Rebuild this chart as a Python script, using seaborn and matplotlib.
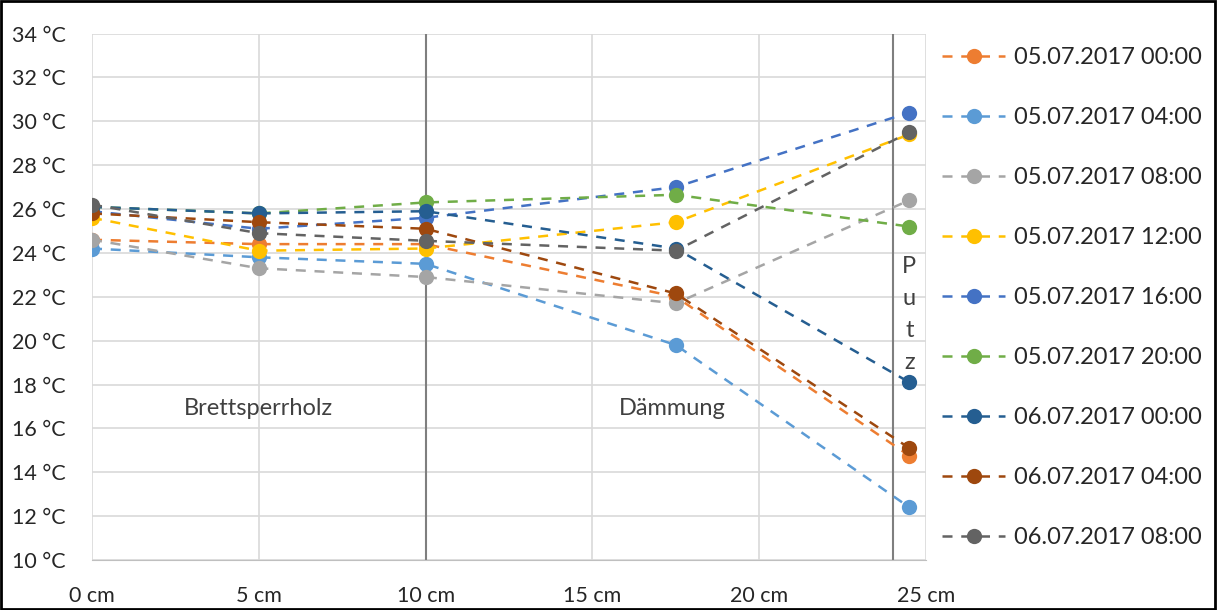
import pandas as pd
import numpy as np
import matplotlib.pyplot as plt
import seaborn as sns
from matplotlib.lines import Line2D
from matplotlib.patches import Rectangle

# -----------------------------
# DATA
# -----------------------------
positions = [0, 5, 10, 17.5, 24.5]

times = [
    "05.07.2017 00:00", "05.07.2017 04:00", "05.07.2017 08:00",
    "05.07.2017 12:00", "05.07.2017 16:00", "05.07.2017 20:00",
    "06.07.2017 00:00", "06.07.2017 04:00", "06.07.2017 08:00",
]

t_0500 = [24.6, 24.4, 24.4, 22.0, 14.75]
t_0504 = [24.2, 23.8, 23.5, 19.8, 12.4]
t_0508 = [24.6, 23.3, 22.9, 21.7, 26.4]
t_0512 = [25.6, 24.1, 24.2, 25.4, 29.4]
t_0516 = [25.9, 25.1, 25.6, 27.0, 30.4]
t_0520 = [26.1, 25.8, 26.3, 26.65, 25.2]
t_0600 = [26.1, 25.8, 25.9, 24.2, 18.1]
t_0604 = [25.8, 25.4, 25.1, 22.15, 15.1]
t_0608 = [26.2, 24.9, 24.55, 24.1, 29.5]

series = [t_0500, t_0504, t_0508, t_0512, t_0516, t_0520, t_0600, t_0604, t_0608]

colors = ["#ED7D31", "#5B9BD5", "#A5A5A5", "#FFC000", "#4472C4",
          "#70AD47", "#255E91", "#9E480E", "#636363"]

y_ticks = list(range(10, 35, 2))
x_ticks = [0, 5, 10, 15, 20, 25]

rows = []
for t, vals in zip(times, series):
    for p, v in zip(positions, vals):
        rows.append({"pos": p, "temp": v, "time": t})
df = pd.DataFrame(rows)

# -----------------------------
# PLOT
# -----------------------------
sns.set_style("white")
plt.rcParams['font.family'] = ['Lato', 'DejaVu Sans']

fig = plt.figure(figsize=(12.17, 6.10), dpi=100)
ax = fig.add_axes([0.0756, 0.082, 0.6853, 0.863])

sns.lineplot(
    data=df, x="pos", y="temp", hue="time", hue_order=times,
    palette=colors, marker="o", markersize=11, markeredgewidth=0,
    linestyle="--", dashes=False, linewidth=1.8, sort=False,
    legend=False, ax=ax, zorder=3
)
for line in ax.get_lines():
    line.set_linestyle((0, (4, 3.5)))

# layer boundaries
ax.axvline(10, color="#7F7F7F", linewidth=1.5, zorder=2)
ax.axvline(24, color="#7F7F7F", linewidth=1.5, zorder=2)

ax.set_xlim(0, 25)
ax.set_ylim(10, 34)
ax.set_xticks(x_ticks)
ax.set_xticklabels([f"{x} cm" for x in x_ticks], fontsize=15.5)
ax.set_yticks(y_ticks)
ax.set_yticklabels([f"{y} °C" for y in y_ticks], fontsize=15.5)
ax.tick_params(axis="x", pad=19, length=0)
ax.tick_params(axis="y", pad=19, length=0)
ax.set_xlabel("")
ax.set_ylabel("")
ax.grid(True, color="#D9D9D9", linewidth=1.2)
ax.set_axisbelow(True)
for s in ["top", "right", "left"]:
    ax.spines[s].set_visible(False)
ax.spines["bottom"].set_color("#BFBFBF")

ax.text(5, 16.9, "Brettsperrholz", fontsize=17, color="#404040",
        ha="center", va="center")
ax.text(17.4, 16.9, "Dämmung", fontsize=17, color="#404040",
        ha="center", va="center")
for i, ch in enumerate("Putz"):
    ax.text(24.5, 23.4 - i * 1.46, ch, fontsize=17, color="#404040",
            ha="center", va="center")

handles = [Line2D([0], [0], color=c, linestyle=(0, (4, 3.5)), linewidth=1.8,
                  marker="o", markersize=11, markeredgewidth=0)
           for c in colors]
fig.legend(handles, times, loc="upper left", bbox_to_anchor=(0.766, 0.938),
           frameon=False, fontsize=17, handlelength=2.7, labelspacing=1.65,
           handletextpad=0.35, borderaxespad=0)

fig.add_artist(Rectangle((0.001, 0.002), 0.997, 0.996, transform=fig.transFigure,
                         fill=False, edgecolor="black", linewidth=2))

plt.savefig("out.png", dpi=100)
